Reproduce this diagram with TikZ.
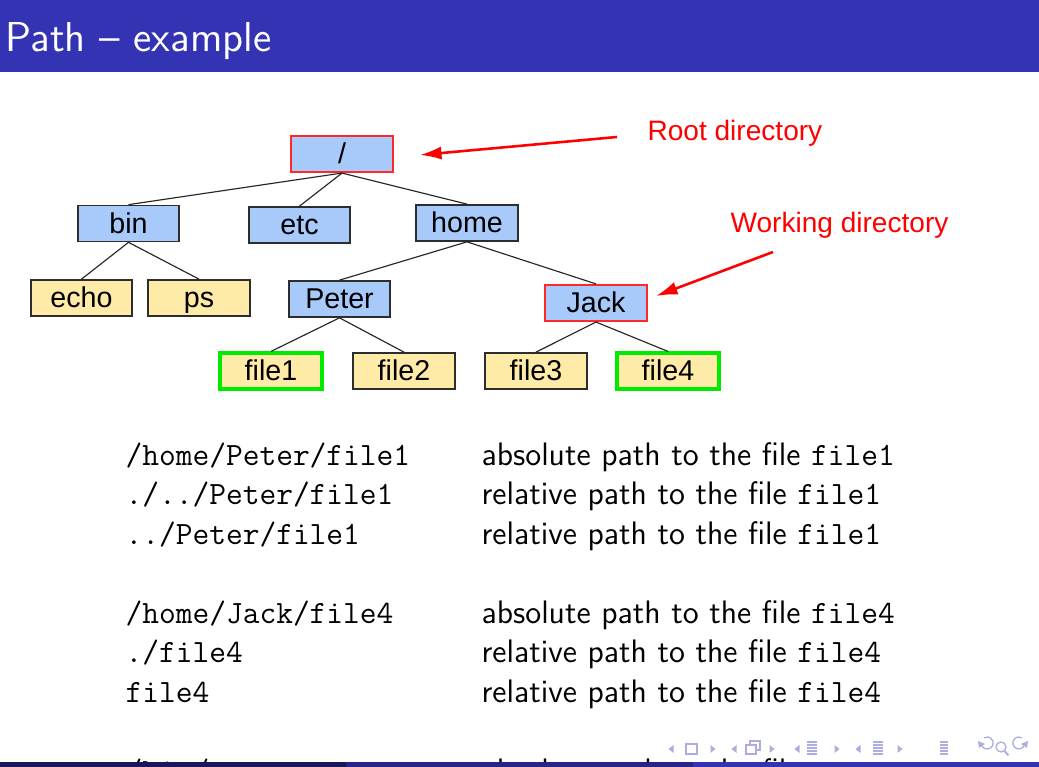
\documentclass[tikz,border=0pt]{standalone}
\usepackage{fontspec}
\usetikzlibrary{arrows.meta}
\newfontfamily\treefont{Liberation Sans}
\definecolor{beamerblue}{RGB}{51,51,179}
\definecolor{footleft}{RGB}{25,25,89}
\definecolor{footmid}{RGB}{38,38,134}
\definecolor{navcol}{RGB}{173,173,224}
\definecolor{dirblue}{RGB}{168,202,250}
\definecolor{fileyellow}{RGB}{255,235,168}
\definecolor{boxedge}{RGB}{45,45,45}
\definecolor{markred}{RGB}{255,40,40}
\definecolor{markgreen}{RGB}{0,235,0}
\def\pu{0.3491pt}

\tikzset{
  treebox/.style={draw=boxedge, line width=0.6pt, minimum width=101*\pu,
    minimum height=36*\pu, inner sep=0pt, text=black,
    text height=7.1pt, text depth=0.4pt,
    font=\treefont\fontsize{10}{12}\selectfont},
  dirbox/.style={treebox, fill=dirblue},
  filebox/.style={treebox, fill=fileyellow},
  marked/.style={draw=markred, line width=0.75pt},
  chosen/.style={draw=markgreen, line width=1.1pt},
  branch/.style={draw=black!85, line width=0.4pt},
  pointer/.style={draw=red, line width=0.9pt, -{Latex[length=7.5pt,width=4.6pt]}},
  note/.style={text=red, anchor=west, inner sep=0pt,
    font=\treefont\fontsize{9.8}{12}\selectfont},
  code/.style={anchor=base west, inner sep=0pt,
    font=\ttfamily\fontsize{11.35}{13.8}\selectfont},
  desc/.style={anchor=base west, inner sep=0pt,
    font=\sffamily\fontsize{11.35}{13.8}\selectfont},
  navtri/.style={fill=navcol, draw=none},
  navline/.style={draw=navcol, line width=0.45pt},
}

\begin{document}
\begin{tikzpicture}[x=\pu, y=-\pu]
  \useasboundingbox (0,0) rectangle (1039,767);
  \clip (0,0) rectangle (1039,767);
  \fill[white] (0,0) rectangle (1039,767);

  % frame title bar
  \fill[beamerblue] (0,0) rectangle (1039,72);
  \node[anchor=base west, inner sep=0pt, text=white,
        font=\sffamily\fontsize{14.6}{17}\selectfont] (title) at (5,52) {Path -- example};

  % directory tree
  \node[dirbox, marked, minimum width=102*\pu] (root) at (342,154) {/};
  \node[dirbox] (bin)  at (128.5,223.5) {bin};
  \node[dirbox] (etc)  at (299.5,225) {etc};
  \node[dirbox, minimum width=102*\pu] (home) at (467,223) {home};
  \node[filebox] (echo) at (81.5,298) {echo};
  \node[filebox, minimum width=102*\pu] (ps) at (199,298) {ps};
  \node[dirbox] (peter) at (339.5,299) {Peter};
  \node[dirbox, marked, minimum width=102*\pu] (jack) at (596,303) {Jack};
  \node[filebox, chosen, minimum width=102*\pu] (file1) at (271,371) {file1};
  \node[filebox, minimum width=102*\pu] (file2) at (404,371) {file2};
  \node[filebox, minimum width=102*\pu] (file3) at (536,371) {file3};
  \node[filebox, chosen, minimum width=102*\pu] (file4) at (668,371) {file4};

  \draw[branch] (root.south) -- (bin.north);
  \draw[branch] (root.south) -- (etc.north);
  \draw[branch] (root.south) -- (home.north);
  \draw[branch] (bin.south) -- (echo.north);
  \draw[branch] (bin.south) -- (ps.north);
  \draw[branch] (home.south) -- (peter.north);
  \draw[branch] (home.south) -- (jack.north);
  \draw[branch] (peter.south) -- (file1.north);
  \draw[branch] (peter.south) -- (file2.north);
  \draw[branch] (jack.south) -- (file3.north);
  \draw[branch] (jack.south) -- (file4.north);

  % annotations
  \node[note] (rootnote) at (647,133) {Root directory};
  \node[note] (worknote) at (730,225) {Working directory};
  \coordinate (rootfrom) at (617,137);
  \coordinate (rootto) at (420,155);
  \coordinate (workfrom) at (773,252);
  \coordinate (workto) at (656,296);
  \draw[pointer] (rootfrom) -- (rootto);
  \draw[pointer] (workfrom) -- (workto);

  % path table
  \node[code] (p1) at (125,466) {/home/Peter/file1};
  \node[code] (p2) at (125,505) {./../Peter/file1};
  \node[code] (p3) at (125,545) {../Peter/file1};
  \node[code] (p4) at (125,624) {/home/Jack/file4};
  \node[code] (p5) at (125,663) {./file4};
  \node[code] (p6) at (125,703) {file4};
  \node[code] (p7) at (125,782) {/bin/ps};
  \node[desc] (d1) at (481,466) {absolute path to the file \texttt{file1}};
  \node[desc] (d2) at (481,505) {relative path to the file \texttt{file1}};
  \node[desc] (d3) at (481,545) {relative path to the file \texttt{file1}};
  \node[desc] (d4) at (481,624) {absolute path to the file \texttt{file4}};
  \node[desc] (d5) at (481,663) {relative path to the file \texttt{file4}};
  \node[desc] (d6) at (481,703) {relative path to the file \texttt{file4}};
  \node[desc] (d7) at (481,782) {absolute path to the file \texttt{ps}};

  % navigation symbols
  \foreach \x in {671,734,797,858} {
    \fill[navtri] (\x+2.5,745) -- (\x-2.5,749) -- (\x+2.5,753) -- cycle;
  }
  \foreach \x in {713,772,837,900} {
    \fill[navtri] (\x-2.5,745) -- (\x+2.5,749) -- (\x-2.5,753) -- cycle;
  }
  \draw[navline] (686,744) rectangle (697,754);
  \draw[navline] (750,741) rectangle (760,750);
  \fill[white] (746,745) rectangle (756,754);
  \draw[navline] (746,745) rectangle (756,754);
  \foreach \y in {742,745,748,751,754} {
    \draw[navline] (807,\y) -- (817,\y);
    \draw[navline] (873,\y) -- (883,\y);
    \draw[navline] (940,\y) -- (948,\y);
  }
  \draw[navline] (981.5,745) arc[start angle=160, end angle=-120, radius=6];
  \fill[navtri] (978,741) -- (985,744) -- (979,748) -- cycle;
  \draw[navline] (1001,747) circle[radius=5];
  \draw[navline, line width=0.7pt] (1004.5,751) -- (1008.5,755.5);
  \draw[navline] (1024.5,745) arc[start angle=20, end angle=300, radius=6];
  \fill[navtri] (1028,741) -- (1021,744) -- (1027,748) -- cycle;

  % footline
  \fill[footleft] (0,762) rectangle (346,767);
  \fill[footmid] (346,762) rectangle (693,767);
  \fill[beamerblue] (693,762) rectangle (1039,767);
\end{tikzpicture}
\end{document}
